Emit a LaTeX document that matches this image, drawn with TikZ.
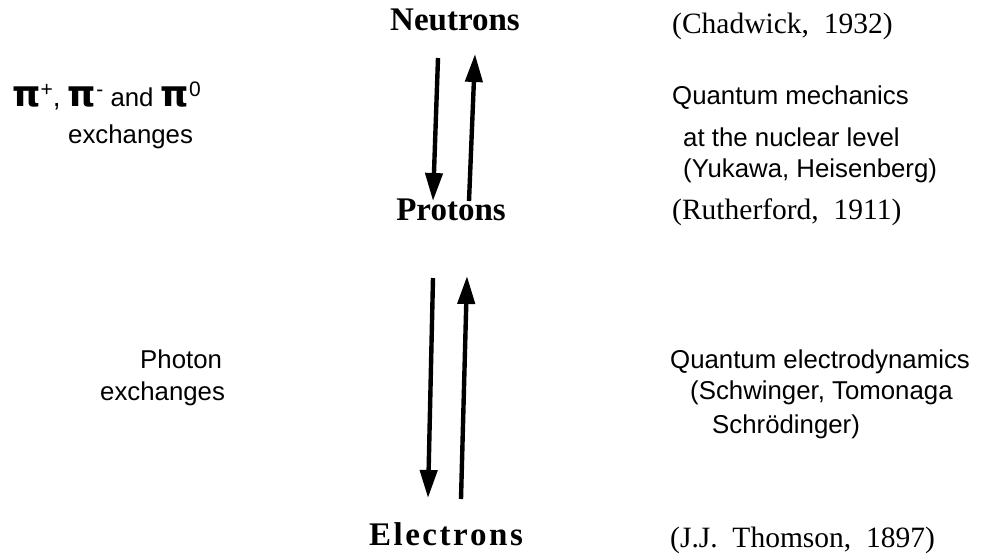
\documentclass[tikz,border=0pt]{standalone}
\usepackage{fontspec}
\setmainfont{Liberation Serif}
\setsansfont{Liberation Sans}
\newfontfamily\pifont{DejaVu Sans}
\usetikzlibrary{arrows.meta}
\newcommand{\bigpi}{{\pifont\bfseries\fontsize{36}{38}\selectfont π}}
\newcommand{\piup}[1]{\raisebox{10pt}{\fontsize{21}{21}\selectfont #1}}
\begin{document}
\begin{tikzpicture}[x=1pt,y=-1pt,
  particle/.style={font=\fontsize{33}{36}\selectfont\bfseries, inner sep=0pt, anchor=base},
  refs/.style={font=\fontsize{29.5}{31}\selectfont, inner sep=0pt, anchor=base west},
  sans/.style={font=\sffamily\fontsize{25.8}{27}\selectfont, inner sep=0pt, anchor=base west},
  arr/.style={line width=4.4pt, -{Triangle[length=28pt,width=17pt]}}
]
\useasboundingbox (0,0) rectangle (984,555);
\fill[white] (0,0) rectangle (984,555);

% particles
\node[particle] (neu) at (455,30) {Neutrons};
\node[particle] (pro) at (451,220) {Protons};
\node[particle] (ele) at (446,545) {E\kern2.5pt l\kern2.5pt e\kern2.5pt c\kern2.5pt t\kern2.5pt r\kern2.5pt o\kern2.5pt n\kern2.5pt s};

% arrow end points
\coordinate (a1s) at (438,58);
\coordinate (a1e) at (433,201);
\coordinate (a2s) at (469,201);
\coordinate (a2e) at (475,54);
\coordinate (a3s) at (433,278);
\coordinate (a3e) at (428,498);
\coordinate (a4s) at (461,499);
\coordinate (a4e) at (467,276);

\draw[arr] (a1s) -- (a1e);
\draw[arr] (a2s) -- (a2e);
\draw[arr] (a3s) -- (a3e);
\draw[arr] (a4s) -- (a4e);

% right column
\node[refs] (chad) at (672,33) {(Chadwick,\ \ 1932)};
\node[sans] (qm1) at (672,104) {Quantum mechanics};
\node[sans] (qm2) at (683,146) {at the nuclear level};
\node[sans] (qm3) at (683,177) {(Yukawa, Heisenberg)};
\node[refs] (ruth) at (672,219) {(Rutherford,\ \ 1911)};
\node[sans] (qed1) at (670,368) {Quantum electrodynamics};
\node[sans] (qed2) at (690,399) {(Schwinger, Tomonaga};
\node[sans] (qed3) at (712,433) {Schrödinger)};
\node[refs] (thom) at (670,547) {(J.J.\ \ Thomson,\ \ 1897)};

% left column
\node[sans] (pi) at (12,106) {\bigpi\piup{+}{\fontsize{28}{28}\selectfont ,} \bigpi\piup{-} and \bigpi\piup{0}};
\node[sans] (exc1) at (68,143) {exchanges};
\node[sans] (pho) at (140,368) {Photon};
\node[sans] (exc2) at (100,400) {exchanges};
\end{tikzpicture}
\end{document}
